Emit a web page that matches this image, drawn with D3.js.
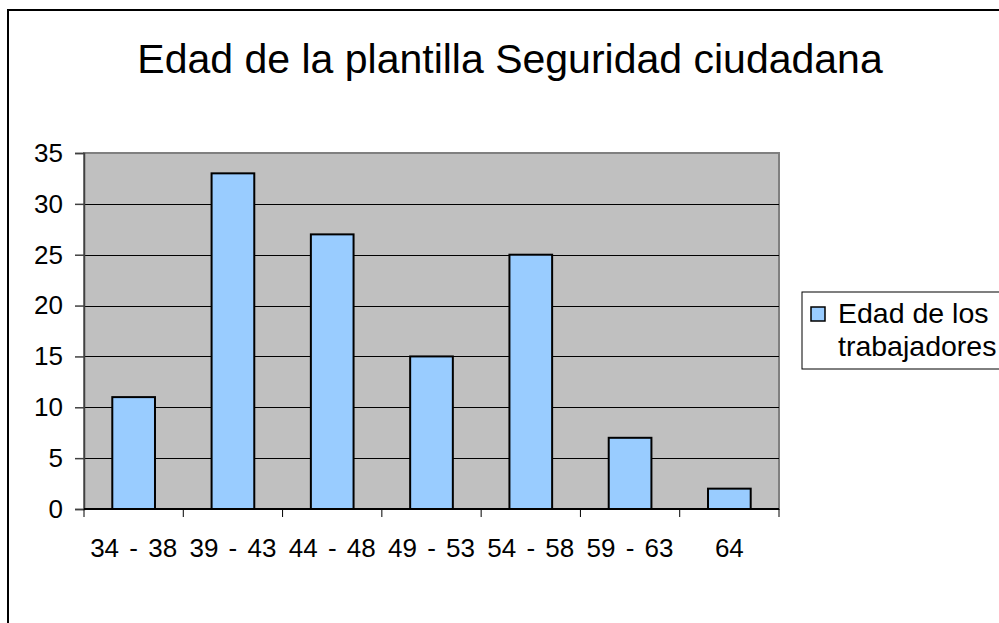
<!DOCTYPE html>
<html>
<head>
<meta charset="utf-8">
<script src="https://cdn.jsdelivr.net/npm/d3@7"></script>
<style>
  body { margin: 0; background: #fff; }
  svg { display: block; font-family: "Liberation Sans", Arial, sans-serif; }
</style>
</head>
<body>
<svg id="chart"></svg>
<script>
// data
var categories = ["34 - 38", "39 - 43", "44 - 48", "49 - 53", "54 - 58", "59 - 63", "64"];
var values = [11, 33, 27, 15, 25, 7, 2];
var yTicks = [0, 5, 10, 15, 20, 25, 30, 35];
var seriesName = "Edad de los trabajadores";
var title = "Edad de la plantilla Seguridad ciudadana";

var W = 999, H = 623;
var plot = {l: 84, t: 153, r: 779, b: 509};

var svg = d3.select("#chart").attr("width", W).attr("height", H);

// outer chart border (runs off right/bottom)
svg.append("rect")
  .attr("x", 8).attr("y", 10)
  .attr("width", 1100).attr("height", 800)
  .attr("fill", "#fff").attr("stroke", "#000").attr("stroke-width", 2);

svg.append("text")
  .attr("x", 510).attr("y", 73)
  .attr("text-anchor", "middle")
  .attr("font-size", 41)
  .text(title);

var x = d3.scaleBand()
  .domain(categories)
  .range([plot.l, plot.r])
  .paddingInner(0.57)
  .paddingOuter(0.285);

var y = d3.scaleLinear()
  .domain([0, 35])
  .range([plot.b, plot.t]);

// plot area
svg.append("rect")
  .attr("x", plot.l).attr("y", plot.t)
  .attr("width", plot.r - plot.l).attr("height", plot.b - plot.t)
  .attr("fill", "#c0c0c0")
  .attr("stroke", "#808080").attr("stroke-width", 2);

// gridlines
svg.append("g")
  .selectAll("line")
  .data(yTicks.filter(function(d){ return d > 0 && d < 35; }))
  .join("line")
  .attr("x1", plot.l).attr("x2", plot.r)
  .attr("y1", function(d){ return Math.round(y(d)) + 0.5; })
  .attr("y2", function(d){ return Math.round(y(d)) + 0.5; })
  .attr("stroke", "#000").attr("stroke-width", 1);

// bars
svg.append("g")
  .selectAll("rect")
  .data(values)
  .join("rect")
  .attr("x", function(d, i){ return x(categories[i]); })
  .attr("y", function(d){ return y(d); })
  .attr("width", x.bandwidth())
  .attr("height", function(d){ return plot.b - y(d); })
  .attr("fill", "#99ccff")
  .attr("stroke", "#000").attr("stroke-width", 2);

// y axis
var yAxis = svg.append("g")
  .attr("transform", "translate(" + plot.l + ",0)")
  .call(d3.axisLeft(y).tickValues(yTicks).tickSize(9).tickPadding(12));
yAxis.select(".domain").attr("stroke", "#404040").attr("stroke-width", 1.5);
yAxis.selectAll(".tick line").attr("stroke", "#404040").attr("stroke-width", 1.5);
yAxis.selectAll("text")
  .attr("font-size", 26)
  .attr("font-family", "Liberation Sans, Arial, sans-serif")
  .attr("fill", "#000");

// x axis with ticks at category boundaries
var xAxis = svg.append("g")
  .attr("transform", "translate(0," + plot.b + ")");
xAxis.append("line")
  .attr("x1", plot.l).attr("x2", plot.r)
  .attr("stroke", "#000").attr("stroke-width", 2);
var step = x.step();
xAxis.selectAll(".xt")
  .data(d3.range(categories.length + 1))
  .join("line")
  .attr("class", "xt")
  .attr("x1", function(i){ return plot.l + i * step; })
  .attr("x2", function(i){ return plot.l + i * step; })
  .attr("y1", 0).attr("y2", 8)
  .attr("stroke", "#000").attr("stroke-width", 1);
xAxis.selectAll(".xl")
  .data(categories)
  .join("text")
  .attr("class", "xl")
  .attr("x", function(d){ return x(d) + x.bandwidth() / 2; })
  .attr("y", 48)
  .attr("text-anchor", "middle")
  .attr("font-size", 26)
  .attr("word-spacing", 3)
  .text(function(d){ return d; });

// legend
var lg = svg.append("g").attr("transform", "translate(802,292)");
lg.append("rect")
  .attr("width", 300).attr("height", 77)
  .attr("fill", "#fff").attr("stroke", "#000").attr("stroke-width", 1);
lg.append("rect")
  .attr("x", 9).attr("y", 15).attr("width", 14).attr("height", 14)
  .attr("fill", "#99ccff").attr("stroke", "#000").attr("stroke-width", 1.5);
var words = seriesName.split(" ");
lg.append("text")
  .attr("x", 36).attr("y", 31)
  .attr("font-size", 28.5)
  .text(words.slice(0, 3).join(" "));
lg.append("text")
  .attr("x", 36).attr("y", 64)
  .attr("font-size", 28.5)
  .text(words.slice(3).join(" "));
</script>
</body>
</html>
